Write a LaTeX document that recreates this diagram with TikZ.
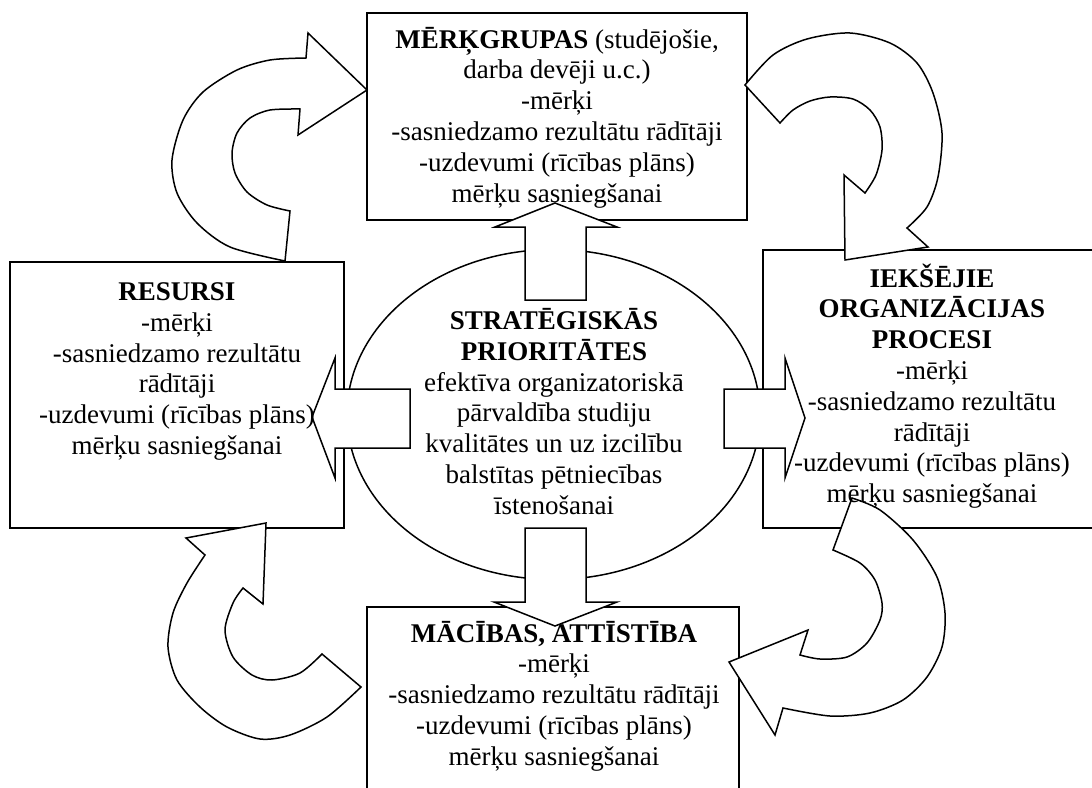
\documentclass[tikz,border=0pt]{standalone}
\usepackage{fontspec}
\setmainfont{Liberation Serif}
\usetikzlibrary{shapes.geometric}
\begin{document}
\begin{tikzpicture}[x=1pt,y=-1pt,
  box/.style={draw, fill=white, line width=1.5pt, rectangle, inner sep=0pt, outer sep=0pt},
  oval/.style={draw, fill=white, line width=1.5pt, ellipse, inner sep=0pt, outer sep=0pt},
  blockarrow/.style={draw, fill=white, line width=1.5pt, line join=miter},
  txt/.style={align=center, inner sep=0pt, font=\fontsize{27}{30.8}\selectfont}]
\useasboundingbox (0,0) rectangle (1092,787);
\fill[white] (0,0) rectangle (1092,787);
\clip (0,0) rectangle (1092,787);

% frames of the five blocks
\node[box, minimum width=380pt, minimum height=207pt] (goals) at (557,116.5) {};
\node[box, minimum width=334pt, minimum height=266pt] (res) at (177,395) {};
\node[box, minimum width=337pt, minimum height=278pt] (proc) at (931.5,389) {};
\node[box, minimum width=372pt, minimum height=193pt] (learn) at (553,703.5) {};
\node[oval, minimum width=413pt, minimum height=330pt] (prio) at (553.5,414.5) {};

% straight block arrows out of the central oval
\path[blockarrow] (525,300) -- (525,227) -- (495,227) -- (555,203) -- (617,227)
  -- (586,227) -- (586,300) -- cycle;
\path[blockarrow] (525,528) -- (525,602) -- (494,602) -- (555,626) -- (617,602)
  -- (586,602) -- (586,528) -- cycle;
\path[blockarrow] (410,389) -- (335,389) -- (335,358) -- (312,417) -- (335,478)
  -- (335,448) -- (410,448) -- cycle;
\path[blockarrow] (724,389) -- (785,389) -- (785,358) -- (805,418) -- (785,478)
  -- (785,448) -- (724,448) -- cycle;

% curved block arrows running clockwise round the blocks
% resources -> target groups
\path[blockarrow] (285,261) -- (290,211)
  -- plot[smooth] coordinates {(290,211) (267,205) (247,192) (235,173) (232,153)
     (237,133) (250,118) (270,110) (300,109)}
  -- (298,135) -- (367,90) -- (308,33) -- (306,58)
  -- plot[smooth] coordinates {(306,58) (270,60) (237,70) (203,92) (183,120)
     (172,160) (177,193) (197,223) (230,247) (285,261)} -- cycle;
% target groups -> internal processes
\path[blockarrow] (780,123) -- (745,85)
  -- plot[smooth] coordinates {(745,85) (773,55) (807,39) (850,33) (890,43)
     (917,63) (933,93) (942,133) (938,177) (927,207) (907,228)}
  -- (928,247) -- (845,260) -- (844,175) -- (865,193)
  -- plot[smooth] coordinates {(865,193) (876,175) (882,150) (880,127) (870,110)
     (853,99) (830,97) (810,101) (793,110) (780,123)} -- cycle;
% internal processes -> learning
\path[blockarrow] (833,550) -- (852,498)
  -- plot[smooth] coordinates {(852,498) (880,510) (913,540) (937,577) (945,613)
     (942,647) (927,677) (903,700) (870,713) (830,716) (783,708)}
  -- (775,735) -- (729,662) -- (808,630) -- (800,655)
  -- plot[smooth] coordinates {(800,655) (820,659) (847,657) (867,643) (880,620)
     (882,603) (875,580) (860,563) (833,550)} -- cycle;
% learning -> resources
\path[blockarrow] (322,654) -- (361,687)
  -- plot[smooth] coordinates {(361,687) (327,717) (290,735) (260,739) (227,727)
     (200,707) (177,680) (168,647) (173,613) (187,583) (205,555)}
  -- (186,538) -- (266,523) -- (263,604) -- (243,588)
  -- plot[smooth] coordinates {(243,588) (233,603) (225,630) (233,657) (252,675)
     (272,680) (300,673) (322,654)} -- cycle;

% texts
\node[txt] (goalsT) at (557,117.5) {\textbf{MĒRĶGRUPAS} (studējošie,\\darba devēji u.c.)\\-mērķi\\-sasniedzamo rezultātu rādītāji\\-uzdevumi (rīcības plāns)\\mērķu sasniegšanai};
\node[txt] (resT) at (177,371.5) {\textbf{RESURSI}\\-mērķi\\-sasniedzamo rezultātu\\rādītāji\\-uzdevumi (rīcības plāns)\\mērķu sasniegšanai};
\node[txt] (prioT) at (554,411.5) {\textbf{STRATĒGISKĀS}\\\textbf{PRIORITĀTES}\\efektīva organizatoriskā\\pārvaldība studiju\\kvalitātes un uz izcilību\\balstītas pētniecības\\īstenošanai};
\node[txt] (procT) at (932,386) {\textbf{IEKŠĒJIE}\\\textbf{ORGANIZĀCIJAS}\\\textbf{PROCESI}\\-mērķi\\-sasniedzamo rezultātu\\rādītāji\\-uzdevumi (rīcības plāns)\\mērķu sasniegšanai};
\node[txt] (learnT) at (554,696) {\textbf{MĀCĪBAS, ATTĪSTĪBA}\\-mērķi\\-sasniedzamo rezultātu rādītāji\\-uzdevumi (rīcības plāns)\\mērķu sasniegšanai};
\end{tikzpicture}
\end{document}
